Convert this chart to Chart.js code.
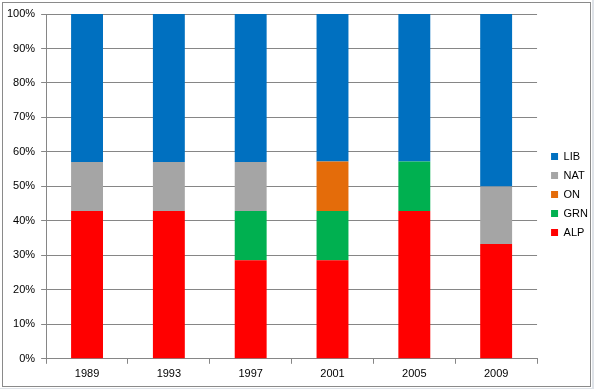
<!DOCTYPE html>
<html>
<head>
<meta charset="utf-8">
<script src="https://cdn.jsdelivr.net/npm/chart.js@4"></script>
<style>
  html, body { margin: 0; padding: 0; background: #dfe3e8; }
  #wrap { position: absolute; left: 0; top: 0; width: 592px; height: 388px; background: #fff; }
  #frame { position: absolute; left: 2px; top: 2px; width: 587px; height: 383px; border: 1px solid #8a8a8a; pointer-events: none; }
  #cv { position: absolute; left: 0; top: 0; }
</style>
</head>
<body>
<div id="wrap">
  <canvas id="cv" width="592" height="388"></canvas>
  <div id="frame"></div>
</div>
<script>
// election years
const years = ["1989", "1993", "1997", "2001", "2005", "2009"];
// share of seats per party (%)
const alp = [42.9, 42.9, 28.6, 28.6, 42.9, 33.3];
const grn = [0, 0, 14.3, 14.3, 14.3, 0];
const on = [0, 0, 0, 14.3, 0, 0];
const nat = [14.2, 14.2, 14.2, 0, 0, 16.7];
const lib = [42.9, 42.9, 42.9, 42.8, 42.8, 50.0];

// nudge the legend box a little right and up, like the original
const legendShift = {
  id: "legendShift",
  afterLayout(chart) {
    const l = chart.legend;
    if (!l) return;
    l.left += 6;
    l.right += 6;
    l.top -= 5;
    l.bottom -= 5;
  },
};

document.addEventListener("DOMContentLoaded", function () {
  const chartEl = document.getElementById("cv");
  const gridColor = "#868686";
  const font = { family: "Liberation Sans", size: 11 };

  const mk = (label, data, color) => ({
    label: label,
    data: data,
    backgroundColor: color,
    borderWidth: 0,
    barPercentage: 0.39,
    categoryPercentage: 1.0,
  });

  new Chart(chartEl, {
    type: "bar",
    data: {
      labels: years,
      datasets: [
        mk("ALP", alp, "#FF0000"),
        mk("GRN", grn, "#00B050"),
        mk("ON", on, "#E46C0A"),
        mk("NAT", nat, "#A5A5A5"),
        mk("LIB", lib, "#0070C0"),
      ],
    },
    plugins: [legendShift],
    options: {
      responsive: false,
      animation: false,
      layout: { padding: { left: 1, top: 14, right: 0, bottom: 3 } },
      plugins: {
        legend: {
          position: "right",
          reverse: true,
          labels: {
            font: font,
            color: "#000",
            boxWidth: 7,
            boxHeight: 7,
            padding: 8,
          },
        },
        tooltip: { enabled: false },
      },
      scales: {
        x: {
          stacked: true,
          grid: {
            drawOnChartArea: false,
            color: gridColor,
            tickLength: 5,
          },
          border: { color: gridColor },
          ticks: { font: font, color: "#000", padding: 4 },
        },
        y: {
          stacked: true,
          min: 0,
          max: 100,
          grid: { color: gridColor, tickLength: 5 },
          border: { color: gridColor },
          ticks: {
            stepSize: 10,
            font: font,
            color: "#000",
            padding: 6,
            callback: (v) => v + "%",
          },
        },
      },
    },
  });
});
</script>
</body>
</html>
